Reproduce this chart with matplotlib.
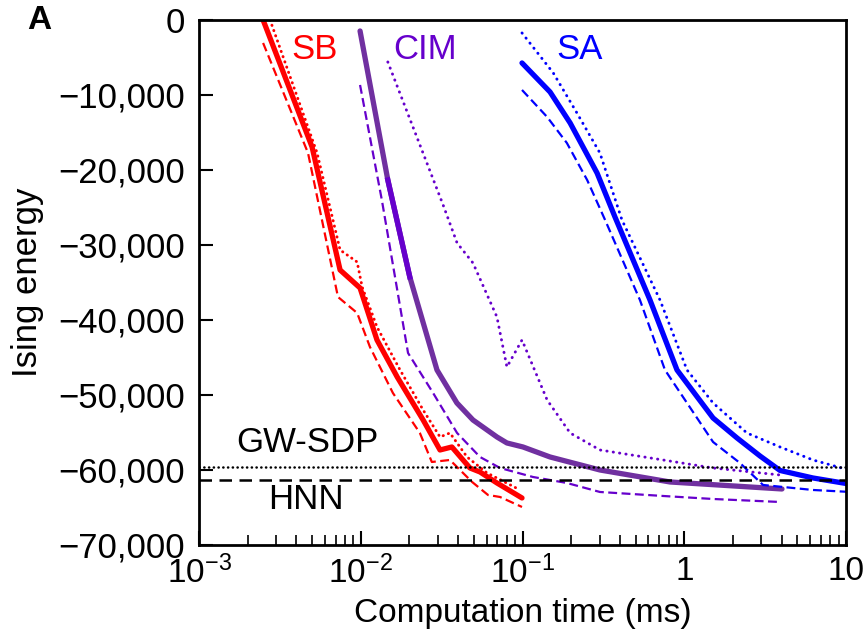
import matplotlib
matplotlib.use("Agg")
import matplotlib.pyplot as plt
from matplotlib.ticker import FixedLocator, FuncFormatter, LogLocator, NullFormatter

plt.rcParams['font.family'] = ['Liberation Sans', 'DejaVu Sans']
plt.rcParams['mathtext.fontset'] = 'custom'
plt.rcParams['mathtext.rm'] = 'Liberation Sans'
plt.rcParams['mathtext.it'] = 'Liberation Sans:italic'

# ---- data (computation time in ms, Ising energy) ----
sb_solid_t = [0.00249, 0.0050, 0.00745, 0.0099, 0.0126, 0.0168, 0.0243, 0.0309, 0.0366, 0.0473, 0.0546, 0.0695, 0.0993]
sb_solid_e = [0, -16933, -33333, -35733, -42667, -47600, -53333, -57333, -56933, -59733, -60267, -61733, -63733]
sb_dash_t = [0.00249, 0.00472, 0.00723, 0.0095, 0.0114, 0.0158, 0.0232, 0.0275, 0.0356, 0.0488, 0.0612, 0.0726, 0.0993]
sb_dash_e = [-3067, -17733, -36933, -39067, -43600, -49733, -55067, -58933, -58667, -61600, -63333, -63600, -64933]
sb_dot_t = [0.00275, 0.00537, 0.00745, 0.0095, 0.0102, 0.0126, 0.0175, 0.0243, 0.0309, 0.0356, 0.0454, 0.0604, 0.0966]
sb_dot_e = [0, -17733, -30667, -32267, -35600, -40933, -46667, -52000, -55600, -55067, -58267, -60400, -62667]

cim_solid_t = [0.0099, 0.0147, 0.0201, 0.0296, 0.0393, 0.0494, 0.0695, 0.0801, 0.1007, 0.148, 0.301, 0.816, 4.02]
cim_solid_e = [-1467, -21333, -34267, -46667, -51067, -53333, -55600, -56400, -56933, -58267, -60000, -61600, -62533]
cim_dash_t = [0.0099, 0.0135, 0.0196, 0.0280, 0.0394, 0.0546, 0.0726, 0.116, 0.188, 0.301, 0.740, 1.507, 3.91]
cim_dash_e = [-8667, -24000, -44400, -49733, -55067, -58267, -59733, -60933, -61733, -62933, -63467, -63867, -64267]
cim_dot_t = [0.0147, 0.0323, 0.0394, 0.0494, 0.0695, 0.0801, 0.0993, 0.142, 0.197, 0.301, 0.740, 1.507, 3.91]
cim_dot_e = [-5600, -24667, -29733, -32400, -39600, -46267, -42667, -50667, -55067, -57333, -58667, -59733, -60667]

sa_solid_t = [0.0993, 0.148, 0.197, 0.289, 0.373, 0.614, 0.902, 1.507, 2.12, 2.94, 3.91, 6.25, 10.0]
sa_solid_e = [-5733, -9600, -13733, -20400, -26267, -37333, -46667, -53067, -55733, -58133, -60067, -61067, -61800]
sa_dash_t = [0.0993, 0.142, 0.188, 0.251, 0.324, 0.532, 0.760, 1.507, 2.21, 3.07, 6.25, 10.0]
sa_dash_e = [-9333, -12933, -16400, -21333, -26667, -37333, -46667, -56267, -59067, -62000, -62667, -62900]
sa_dot_t = [0.0993, 0.155, 0.217, 0.301, 0.412, 0.708, 1.04, 1.507, 2.44, 3.91, 6.25, 10.0]
sa_dot_e = [-1733, -7067, -12400, -17733, -26667, -37333, -46667, -51067, -55067, -56933, -58667, -59900]

gw_sdp_energy = -59600
hnn_energy = -61400

x_ticks = [1e-3, 1e-2, 1e-1, 1, 10]
x_tick_labels = ['$10^{-3}$', '$10^{-2}$', '$10^{-1}$', '1', '10']
y_ticks = [0, -10000, -20000, -30000, -40000, -50000, -60000, -70000]

RED = '#FF0000'
PURPLE = '#7030A0'
VIOLET = '#6600CC'
BLUE = '#0000FF'

fig = plt.figure(figsize=(8.63, 6.38), dpi=100)
ax = fig.add_axes([0.2306, 0.1458, 0.7497, 0.8229])

lw_s, lw_d, lw_o = 3.8, 1.6, 2.1
dot = dict(dash_capstyle='round')
ax.plot(sb_solid_t, sb_solid_e, color=RED, lw=lw_s, solid_capstyle='round')
ax.plot(sb_dash_t, sb_dash_e, color=RED, lw=lw_d, ls=(0, (4, 2)))
ax.plot(sb_dot_t, sb_dot_e, color=RED, lw=lw_o, ls=(0, (0.1, 1.8)), **dot)

ax.plot(cim_solid_t, cim_solid_e, color=PURPLE, lw=lw_s, solid_capstyle='round')
ax.plot(cim_solid_t[1:3], cim_solid_e[1:3], color=VIOLET, lw=lw_s)
ax.plot(cim_dash_t, cim_dash_e, color=VIOLET, lw=lw_d, ls=(0, (4, 2)))
ax.plot(cim_dot_t, cim_dot_e, color=VIOLET, lw=lw_o, ls=(0, (0.1, 2.1)), **dot)

ax.plot(sa_solid_t, sa_solid_e, color=BLUE, lw=lw_s, solid_capstyle='round')
ax.plot(sa_dash_t, sa_dash_e, color=BLUE, lw=lw_d, ls=(0, (4, 2)))
ax.plot(sa_dot_t, sa_dot_e, color=BLUE, lw=lw_o, ls=(0, (0.1, 2.1)), **dot)

ax.axhline(gw_sdp_energy, color='black', lw=1.8, ls=(0, (0.1, 1.8)), **dot)
ax.axhline(hnn_energy, color='black', lw=1.8, ls=(0, (5, 3)))

ax.set_xscale('log')
ax.set_xlim(1e-3, 10)
ax.set_ylim(-70000, 0)

ax.xaxis.set_major_locator(FixedLocator(x_ticks))
ax.set_xticklabels(x_tick_labels)
ax.xaxis.set_minor_locator(LogLocator(base=10, subs=range(2, 10)))
ax.xaxis.set_minor_formatter(NullFormatter())
ax.yaxis.set_major_locator(FixedLocator(y_ticks))
ax.yaxis.set_major_formatter(FuncFormatter(lambda v, p: '0' if v == 0 else '\u2212' + format(int(abs(v)), ',')))

ax.tick_params(axis='both', which='major', direction='in', length=10, width=1.5)
ax.tick_params(axis='y', which='major', pad=10, labelsize=25)
ax.tick_params(axis='x', which='major', pad=8, labelsize=24)
ax.tick_params(axis='x', which='minor', direction='in', length=7, width=1.2)
ax.tick_params(top=False, right=False, which='both')
for s in ax.spines.values():
    s.set_linewidth(2)

ax.set_xlabel('Computation time (ms)', fontsize=24, labelpad=5)
ax.set_ylabel('Ising energy', fontsize=25, labelpad=10)

ax.text(0.0052, -4000, 'SB', color=RED, fontsize=25, ha='center', va='center')
ax.text(0.0249, -4000, 'CIM', color=VIOLET, fontsize=25, ha='center', va='center')
ax.text(0.226, -4000, 'SA', color=BLUE, fontsize=25, ha='center', va='center')
ax.text(0.00466, -56400, 'GW-SDP', color='black', fontsize=25, ha='center', va='center')
ax.text(0.0046, -64000, 'HNN', color='black', fontsize=25, ha='center', va='center')

fig.text(0.046, 0.968, 'A', fontsize=24, fontweight='bold', ha='center', va='center')

fig.savefig('out.png', dpi=100)
